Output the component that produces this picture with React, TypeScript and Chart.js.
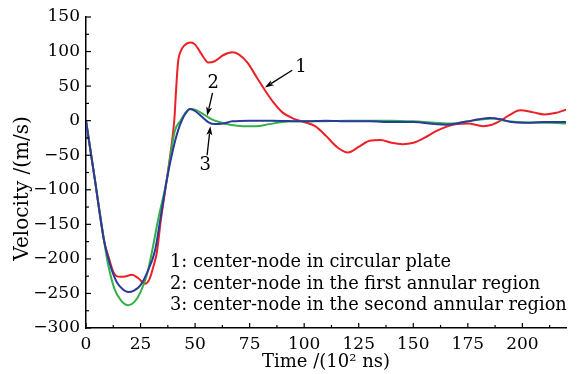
import React, { useEffect, useRef } from "react";
import { Chart, registerables } from "chart.js";

Chart.register(...registerables);

// ---- data ----
const redTime = [0, 4, 8.3, 10.6, 12.4, 14, 16, 18.5, 21, 24, 27, 29, 31, 32.5, 34.3, 37, 39.5, 40.5, 41.3, 42.2, 43.5, 45, 46.5, 48, 50, 52, 54, 56, 59, 63, 67, 70, 74, 78, 82, 86, 90, 95, 100, 105, 110, 115, 120, 125, 130, 135, 140, 145, 150, 155, 160, 165, 170, 175, 182, 186, 190, 194, 199, 205, 210, 215, 220];
const redVelocity = [0, -84, -174, -200, -218, -225, -226, -225, -223, -228, -236, -230, -210, -190, -144, -86, -28, 2, 45, 85, 101, 108.5, 112, 113, 110, 101, 91, 84, 86, 95, 99, 96, 84, 64, 44, 26, 12, 3, -2, -8, -22, -38, -46, -38, -29, -28, -32, -34, -32, -25, -16, -9, -5, -4, -8, -6, 0, 8, 15, 12, 9, 11, 16];

const greenTime = [0, 4, 8.3, 10, 13, 16, 19.4, 22, 25, 28, 30.1, 33, 37, 39.5, 40.8, 43.3, 45.5, 47.7, 50, 53, 57, 61, 66, 72, 78, 84, 90, 95, 105, 120, 140, 150, 160, 168, 175, 182, 187, 192, 198, 205, 212, 220];
const greenVelocity = [0, -84, -174, -206, -243, -260, -267, -263, -248, -222, -192, -144, -86, -35, -14, 0, 11, 17, 16, 11, 3, -2, -6, -8, -8, -5, -2, -1, -1, 0, 0, -1, -3, -4, -1, 2, 3, 0, -2, -3, -3, -4];

const blueTime = [0, 4, 8.3, 9.6, 11.8, 14, 16.5, 19.4, 22, 25, 28, 31.7, 34, 37, 40, 42.2, 43.9, 45.5, 47.7, 50, 53, 56, 59, 63, 67, 75, 85, 100, 110, 120, 130, 140, 150, 160, 165, 170, 175, 180, 185, 190, 195, 200, 210, 220];
const blueVelocity = [0, -84, -174, -192, -216, -233, -243, -248, -246, -238, -220, -187, -144, -86, -40, -14, 0, 10, 17, 14, 6, -2, -5, -4, -1, 0, 0, -1, 0, -1, -1, -2, -2, -5, -6, -4, -1, 2, 4, 2, -2, -3, -2, -2];

const seriesNames = ["1", "2", "3"];
const legendLines = [
  "1: center-node in circular plate",
  "2: center-node in the first annular region",
  "3: center-node in the second annular region",
];
const xTitle = "Time /(10\u00B2 ns)";
const yTitle = "Velocity /(m/s)";
const X_MIN = 0, X_MAX = 220, X_STEP = 25;
const Y_MIN = -300, Y_MAX = 150, Y_STEP = 50;

const FONT = "'DejaVu Serif', 'Liberation Serif', serif";

const pts = (xs: number[], ys: number[]) => xs.map((x, i) => ({ x, y: ys[i] }));

function drawArrow(ctx: CanvasRenderingContext2D, x1: number, y1: number, x2: number, y2: number) {
  const ang = Math.atan2(y2 - y1, x2 - x1);
  const hl = 9, hw = 3;
  ctx.beginPath();
  ctx.moveTo(x1, y1);
  ctx.lineTo(x2 - Math.cos(ang) * hl * 0.8, y2 - Math.sin(ang) * hl * 0.8);
  ctx.stroke();
  ctx.beginPath();
  ctx.moveTo(x2, y2);
  ctx.lineTo(x2 - Math.cos(ang) * hl - Math.sin(ang) * hw, y2 - Math.sin(ang) * hl + Math.cos(ang) * hw);
  ctx.lineTo(x2 - Math.cos(ang) * hl * 0.75, y2 - Math.sin(ang) * hl * 0.75);
  ctx.lineTo(x2 - Math.cos(ang) * hl + Math.sin(ang) * hw, y2 - Math.sin(ang) * hl - Math.cos(ang) * hw);
  ctx.closePath();
  ctx.fill();
}

const decorPlugin = {
  id: "decor",
  afterDraw(chart: any) {
    const ctx: CanvasRenderingContext2D = chart.ctx;
    const xs = chart.scales.x, ys = chart.scales.y;
    const { left, bottom } = chart.chartArea;
    ctx.save();
    ctx.strokeStyle = "#000";
    ctx.fillStyle = "#000";
    ctx.lineWidth = 1.2;
    for (let v = X_MIN; v <= X_MAX + 1e-6; v += X_STEP / 2) {
      const px = xs.getPixelForValue(v);
      const len = v % X_STEP === 0 ? 5 : 3;
      ctx.beginPath();
      ctx.moveTo(px, bottom);
      ctx.lineTo(px, bottom - len);
      ctx.stroke();
    }
    for (let v = Y_MIN; v <= Y_MAX + 1e-6; v += Y_STEP / 2) {
      const py = ys.getPixelForValue(v);
      const len = v % Y_STEP === 0 ? 5 : 3;
      ctx.beginPath();
      ctx.moveTo(left, py);
      ctx.lineTo(left + len, py);
      ctx.stroke();
    }
    // legend text
    ctx.font = `17.8px ${FONT}`;
    ctx.textAlign = "left";
    ctx.textBaseline = "alphabetic";
    const legY = [-212, -243, -274];
    legendLines.forEach((t, i) => {
      ctx.fillText(t, xs.getPixelForValue(38.5), ys.getPixelForValue(legY[i]));
    });
    // annotations
    ctx.font = `18px ${FONT}`;
    ctx.textAlign = "center";
    ctx.textBaseline = "middle";
    const labelPos = [
      [98.5, 77],
      [58.3, 54],
      [54.6, -64],
    ];
    seriesNames.forEach((n, i) => {
      ctx.fillText(n, xs.getPixelForValue(labelPos[i][0]), ys.getPixelForValue(labelPos[i][1]));
    });
    ctx.lineWidth = 1.3;
    const arrows = [
      [94.5, 73, 82, 48],
      [58, 40, 55.5, 7],
      [55.5, -50, 57, -8],
    ];
    arrows.forEach((a) => {
      drawArrow(ctx, xs.getPixelForValue(a[0]), ys.getPixelForValue(a[1]), xs.getPixelForValue(a[2]), ys.getPixelForValue(a[3]));
    });
    ctx.restore();
  },
};

export default function App() {
  const ref = useRef<HTMLCanvasElement>(null);
  useEffect(() => {
    if (!ref.current) return;
    const lineDs = (label: string, data: any, color: string) => ({
      label,
      data,
      borderColor: color,
      backgroundColor: color,
      borderWidth: 2,
      pointRadius: 0,
      cubicInterpolationMode: "monotone" as const,
      fill: false,
    });
    const chart = new Chart(ref.current, {
      type: "line",
      data: {
        datasets: [
          lineDs(legendLines[2], pts(blueTime, blueVelocity), "#2a3a9c"),
          lineDs(legendLines[1], pts(greenTime, greenVelocity), "#34b048"),
          lineDs(legendLines[0], pts(redTime, redVelocity), "#ec2027"),
        ],
      },
      options: {
        animation: false,
        responsive: false,
        maintainAspectRatio: false,
        layout: { padding: { left: 0, top: 17, right: 16, bottom: 0 } },
        plugins: { legend: { display: false }, tooltip: { enabled: false } },
        scales: {
          x: {
            type: "linear",
            min: X_MIN,
            max: X_MAX,
            grid: { display: false, drawTicks: false },
            border: { display: true, color: "#000", width: 1.5 },
            ticks: {
              stepSize: X_STEP,
              includeBounds: false,
              color: "#000",
              padding: 6,
              maxRotation: 0,
              font: { family: FONT, size: 17 },
            },
            title: {
              display: true,
              text: xTitle,
              color: "#000",
              font: { family: FONT, size: 18 },
              padding: { top: 0, bottom: 1 },
            },
            afterFit: (s: any) => {
              s.height = 46;
            },
          },
          y: {
            type: "linear",
            min: Y_MIN,
            max: Y_MAX,
            grid: { display: false, drawTicks: false },
            border: { display: true, color: "#000", width: 1.5 },
            ticks: {
              stepSize: Y_STEP,
              color: "#000",
              padding: 6,
              font: { family: FONT, size: 17 },
              callback: (v: any) => String(v).replace("-", "\u2212"),
            },
            title: {
              display: true,
              text: yTitle + "\u00A0\u00A0\u00A0\u00A0\u00A0",
              color: "#000",
              font: { family: FONT, size: 20 },
              padding: { top: 11, bottom: 0 },
            },
            afterFit: (s: any) => {
              s.width = 86;
            },
          },
        },
      },
      plugins: [decorPlugin],
    });
    return () => chart.destroy();
  }, []);
  return (
    <div style={{ position: "fixed", left: 0, top: 0, width: 582, height: 374, background: "#fff" }}>
      <canvas ref={ref} width={582} height={374} style={{ width: 582, height: 374 }} />
    </div>
  );
}
